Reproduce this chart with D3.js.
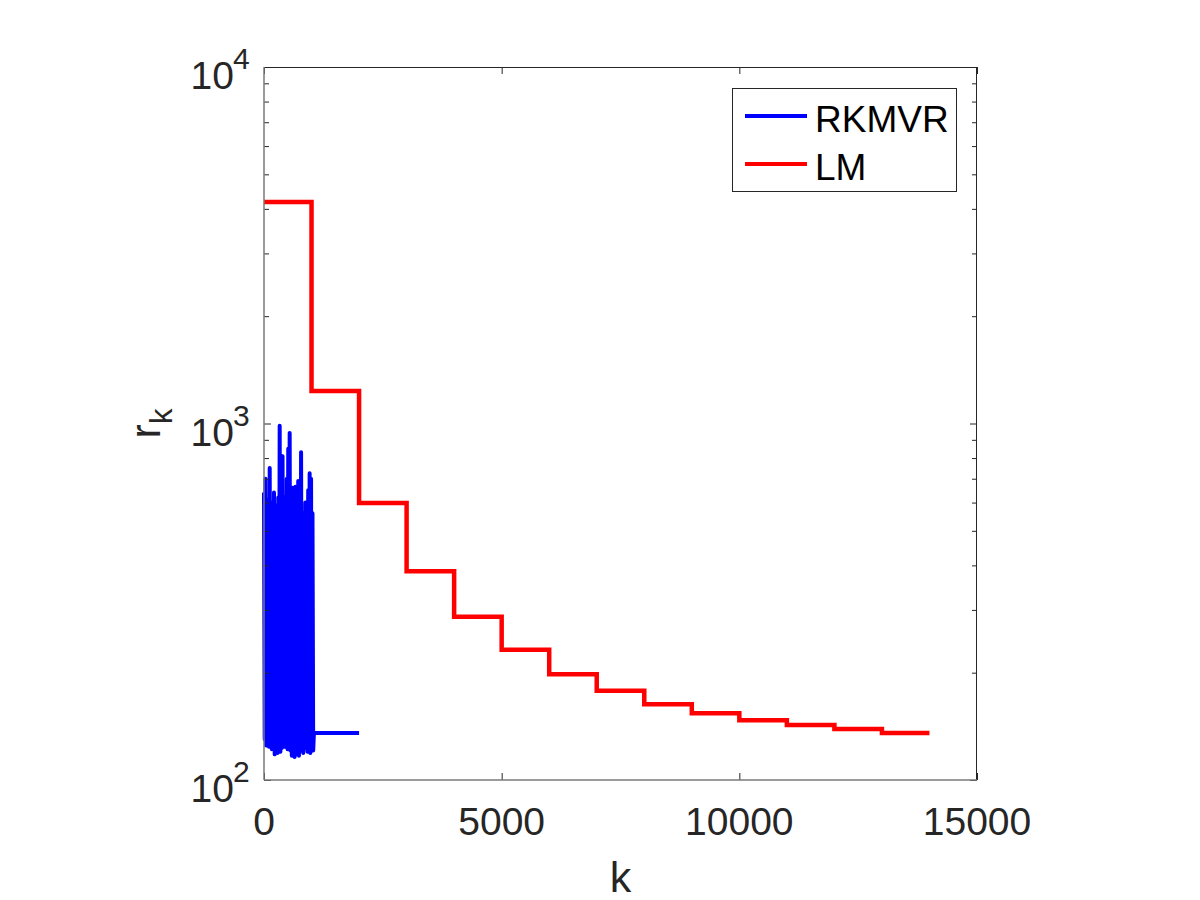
<!DOCTYPE html>
<html>
<head>
<meta charset="utf-8">
<script src="https://cdn.jsdelivr.net/npm/d3@7"></script>
<style>
  body { margin: 0; background: #fff; }
  text { font-family: "Liberation Sans", Arial, sans-serif; }
</style>
</head>
<body>
<div id="chart"></div>
<script>
// RKMVR residuals, one value every rkStep iterations, then a flat tail
const rkStep = 15;
const rkValues = [
  640, 130, 700, 125, 520, 128, 610, 124, 750, 127,
  600, 122, 560, 126, 640, 118, 480, 121, 590, 119,
  620, 125, 985, 120, 700, 123, 810, 131, 560, 124,
  620, 127, 700, 122, 850, 126, 940, 121, 560, 117,
  660, 120, 580, 116, 665, 118, 520, 122, 690, 117,
  610, 121, 830, 125, 560, 119, 470, 123, 600, 128,
  540, 120, 650, 122, 725, 119, 700, 124, 560, 121,
  135.5
];
const rkTailK = 2000;

// LM residuals, constant over each block of lmStep iterations
const lmStep = 1000;
const lmValues = [4181, 1234, 598, 385, 287, 232, 198, 178, 163, 154, 147, 142.6, 139, 135.5];

const xTicks = [0, 5000, 10000, 15000];
const yMajor = [100, 1000, 10000];
const yMinor = [200, 300, 400, 500, 600, 700, 800, 900, 2000, 3000, 4000, 5000, 6000, 7000, 8000, 9000];
const legendNames = ['RKMVR', 'LM'];
const legendColors = ['#0000ff', '#ff0000'];

let drawChart = function() {
    let W = 1200, H = 900;
    let left = 264, right = 977, top = 67, bottom = 780;
    let axisColor = '#262626';

    let svg = d3.select('#chart').append('svg')
        .attr('width', W).attr('height', H);

    let x = d3.scaleLinear().domain([0, 15000]).range([left, right]);
    let y = d3.scaleLog().domain([100, 10000]).range([bottom, top]);

    // data
    let rkData = rkValues.map((v, i) => [i * rkStep, v]);
    rkData.push([rkTailK, rkValues[rkValues.length - 1]]);
    let lmData = lmValues.map((v, i) => [i * lmStep, v]);
    lmData.push([lmValues.length * lmStep, lmValues[lmValues.length - 1]]);

    let line = d3.line().x(d => x(d[0])).y(d => y(d[1]));
    svg.append('path').datum(rkData)
        .attr('d', line)
        .attr('fill', 'none').attr('stroke', legendColors[0])
        .attr('stroke-width', 4).attr('stroke-linejoin', 'round');
    svg.append('path').datum(lmData)
        .attr('d', line.curve(d3.curveStepAfter))
        .attr('fill', 'none').attr('stroke', legendColors[1])
        .attr('stroke-width', 4.5);

    // axes ticks (inward, on all four sides)
    let tickSide = function(axis, tx) {
        let g = svg.append('g').attr('transform', tx).call(axis);
        g.select('.domain').remove();
        g.selectAll('line').attr('stroke', axisColor);
        return g;
    };
    tickSide(d3.axisBottom(x).tickValues(xTicks).tickSize(-7).tickFormat(''), `translate(0,${bottom})`);
    tickSide(d3.axisTop(x).tickValues(xTicks).tickSize(-7).tickFormat(''), `translate(0,${top})`);
    tickSide(d3.axisLeft(y).tickValues(yMajor).tickSize(-7).tickFormat(''), `translate(${left},0)`);
    tickSide(d3.axisRight(y).tickValues(yMajor).tickSize(-7).tickFormat(''), `translate(${right},0)`);
    tickSide(d3.axisLeft(y).tickValues(yMinor).tickSize(-5).tickFormat(''), `translate(${left},0)`);
    tickSide(d3.axisRight(y).tickValues(yMinor).tickSize(-5).tickFormat(''), `translate(${right},0)`);

    // box
    svg.append('line').attr('x1', left).attr('x2', right).attr('y1', top + 0.5).attr('y2', top + 0.5)
        .attr('stroke', axisColor);
    svg.append('line').attr('x1', right - 0.5).attr('x2', right - 0.5).attr('y1', top).attr('y2', bottom)
        .attr('stroke', axisColor);
    svg.append('line').attr('x1', left).attr('x2', right).attr('y1', bottom).attr('y2', bottom)
        .attr('stroke', '#7a7a7a').attr('stroke-width', 1.5);
    svg.append('line').attr('x1', left).attr('x2', left).attr('y1', top).attr('y2', bottom)
        .attr('stroke', '#7a7a7a').attr('stroke-width', 1.5);

    // x tick labels
    svg.selectAll('.xlab').data(xTicks).enter().append('text')
        .attr('x', d => x(d)).attr('y', 835)
        .attr('text-anchor', 'middle')
        .attr('font-size', 39).attr('fill', axisColor)
        .text(d => d);

    // y tick labels 10^n
    let ylab = svg.selectAll('.ylab').data(yMajor).enter().append('g');
    ylab.append('text')
        .attr('x', 234).attr('y', d => y(d) + 22)
        .attr('text-anchor', 'end')
        .attr('font-size', 39).attr('fill', axisColor)
        .text('10');
    ylab.append('text')
        .attr('x', 233).attr('y', d => y(d) + 2)
        .attr('font-size', 30).attr('fill', axisColor)
        .text(d => Math.round(Math.log10(d)));

    // axis labels
    svg.append('text')
        .attr('x', (left + right) / 2).attr('y', 892)
        .attr('text-anchor', 'middle')
        .attr('font-size', 43).attr('fill', axisColor)
        .text('k');
    let yl = svg.append('text')
        .attr('transform', `translate(160,${(top + bottom) / 2}) rotate(-90)`)
        .attr('text-anchor', 'middle')
        .attr('font-size', 43).attr('fill', axisColor);
    yl.append('tspan').text('r');
    yl.append('tspan').attr('font-size', 31).attr('dy', 12).text('k');

    // legend
    let lg = svg.append('g');
    lg.append('rect')
        .attr('x', 732.5).attr('y', 88.5).attr('width', 224).attr('height', 103)
        .attr('fill', '#fff').attr('stroke', axisColor);
    legendNames.forEach(function(name, i) {
        let yy = 116 + i * 48;
        lg.append('line')
            .attr('x1', 745).attr('x2', 807).attr('y1', yy).attr('y2', yy)
            .attr('stroke', legendColors[i]).attr('stroke-width', 4);
        lg.append('text')
            .attr('x', 815).attr('y', yy + 16)
            .attr('font-size', 37).attr('fill', '#000')
            .text(name);
    });
}

drawChart();
</script>
</body>
</html>
